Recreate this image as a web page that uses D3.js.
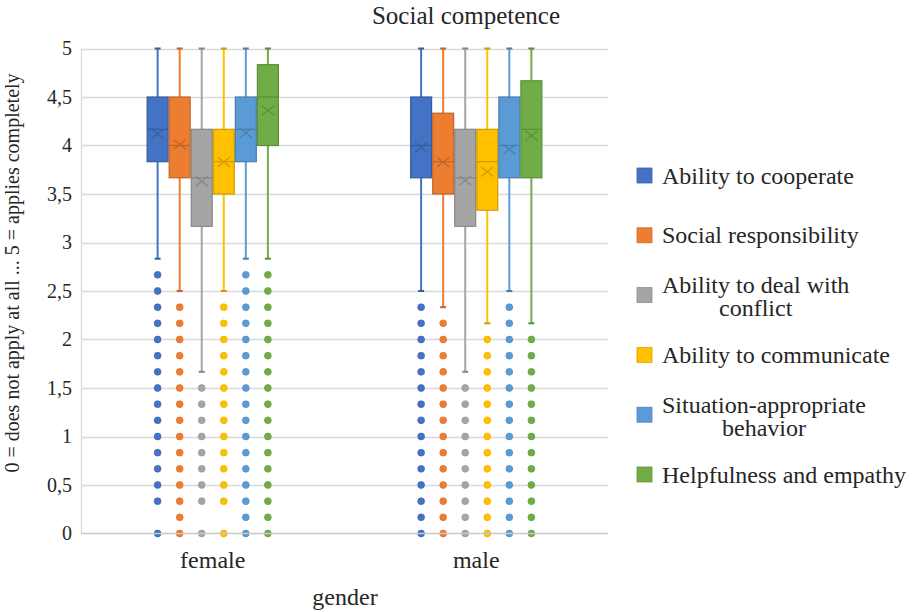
<!DOCTYPE html>
<html>
<head>
<meta charset="utf-8">
<script src="https://cdn.jsdelivr.net/npm/d3@7"></script>
</head>
<body style="margin:0">
<svg id="chart" width="916" height="612"></svg>
<script>
// ---------- data ----------
const title = "Social competence";
const yTitle = "0 = does not apply at all ... 5 = applies completely";
const xTitle = "gender";
const categories = ["female", "male"];
const seriesNames = [
  "Ability to cooperate",
  "Social responsibility",
  "Ability to deal with conflict",
  "Ability to communicate",
  "Situation-appropriate behavior",
  "Helpfulness and empathy"
];
const legendLines = [
  ["Ability to cooperate"],
  ["Social responsibility"],
  ["Ability to deal with", "conflict"],
  ["Ability to communicate"],
  ["Situation-appropriate", "behavior"],
  ["Helpfulness and empathy"]
];
const seriesColors = ["#4472C4", "#ED7D31", "#A5A5A5", "#FFC000", "#5B9BD5", "#70AD47"];
const yTickValues = [0, 0.5, 1, 1.5, 2, 2.5, 3, 3.5, 4, 4.5, 5];
const yTickLabels = ["0", "0,5", "1", "1,5", "2", "2,5", "3", "3,5", "4", "4,5", "5"];

// per series: [female, male]
const q1 = [[3.833, 3.667], [3.667, 3.5], [3.167, 3.167], [3.5, 3.333], [3.833, 3.667], [4.0, 3.667]];
const median = [[4.167, 4.0], [4.0, 3.833], [3.667, 3.667], [3.833, 3.833], [4.167, 4.0], [4.5, 4.167]];
const q3 = [[4.5, 4.5], [4.5, 4.333], [4.167, 4.167], [4.167, 4.167], [4.5, 4.5], [4.833, 4.667]];
const mean = [[4.12, 3.98], [4.01, 3.83], [3.63, 3.64], [3.83, 3.73], [4.13, 3.96], [4.36, 4.1]];
const whiskerLow = [[2.833, 2.5], [2.5, 2.333], [1.667, 1.667], [2.5, 2.167], [2.833, 2.5], [2.833, 2.167]];
const whiskerHigh = [[5, 5], [5, 5], [5, 5], [5, 5], [5, 5], [5, 5]];

const outliersFemale = [
  [2.667, 2.5, 2.333, 2.167, 2, 1.833, 1.667, 1.5, 1.333, 1.167, 1, 0.833, 0.667, 0.5, 0.333, 0],
  [2.333, 2.167, 2, 1.833, 1.667, 1.5, 1.333, 1.167, 1, 0.833, 0.667, 0.5, 0.333, 0.167, 0],
  [1.5, 1.333, 1.167, 1, 0.833, 0.667, 0.5, 0.333, 0],
  [2.333, 2.167, 2, 1.833, 1.667, 1.5, 1.333, 1.167, 1, 0.833, 0.667, 0.5, 0.333, 0],
  [2.667, 2.5, 2.333, 2.167, 2, 1.833, 1.667, 1.5, 1.333, 1.167, 1, 0.833, 0.667, 0.5, 0.333, 0.167, 0],
  [2.667, 2.5, 2.333, 2.167, 2, 1.833, 1.667, 1.5, 1.333, 1.167, 1, 0.833, 0.667, 0.5, 0.333, 0.167, 0]
];
const outliersMale = [
  [2.333, 2.167, 2, 1.833, 1.667, 1.5, 1.333, 1.167, 1, 0.833, 0.667, 0.5, 0.333, 0.167, 0],
  [2.167, 2, 1.833, 1.667, 1.5, 1.333, 1.167, 1, 0.833, 0.667, 0.5, 0.333, 0.167, 0],
  [1.5, 1.333, 1.167, 1, 0.833, 0.667, 0.5, 0.333, 0.167, 0],
  [2, 1.833, 1.667, 1.5, 1.333, 1.167, 1, 0.833, 0.667, 0.5, 0.333, 0.167, 0],
  [2.333, 2.167, 2, 1.833, 1.667, 1.5, 1.333, 1.167, 1, 0.833, 0.667, 0.5, 0.333, 0.167, 0],
  [2, 1.833, 1.667, 1.5, 1.333, 1.167, 1, 0.833, 0.667, 0.5, 0.333, 0.167, 0]
];
const outliers = [outliersFemale, outliersMale];

// ---------- layout ----------
const FONT = "'Tinos'";
const TEXT = "#262626";
const svg = d3.select("#chart");
const plot = { left: 81, right: 608, top: 48.5, bottom: 533.5 };

function styleText(sel, size) {
  return sel.style("font-family", FONT).attr("font-size", size).attr("fill", TEXT);
}

const x = d3.scaleBand().domain(categories).range([plot.left, plot.right]);
const xs = d3.scaleBand().domain(d3.range(seriesNames.length))
  .range([0, x.bandwidth()]).paddingInner(0.05).paddingOuter(3);
const y = d3.scaleLinear().domain([0, 5]).range([plot.bottom, plot.top]);

// gridlines
svg.append("g")
  .selectAll("line").data(yTickValues.filter(v => v > 0)).join("line")
  .attr("x1", plot.left).attr("x2", plot.right)
  .attr("y1", d => Math.round(y(d)) + 0.5).attr("y2", d => Math.round(y(d)) + 0.5)
  .attr("stroke", "#d9d9d9").attr("stroke-width", 1.3);

// left axis line (light)
svg.append("line")
  .attr("x1", plot.left + 0.5).attr("x2", plot.left + 0.5)
  .attr("y1", plot.top).attr("y2", plot.bottom)
  .attr("stroke", "#d9d9d9").attr("stroke-width", 1.3);

// y tick labels
svg.append("g").selectAll("text").data(yTickValues).join("text")
  .attr("x", plot.left - 9).attr("y", d => y(d)).attr("dy", "0.34em")
  .attr("text-anchor", "end")
  .call(styleText, 20)
  .text((d, i) => yTickLabels[i]);

// boxes
const boxW = xs.bandwidth();
const capW = 6;
seriesNames.forEach((name, si) => {
  const col = seriesColors[si];
  const dark = d3.color(col).darker(0.6).formatHex();
  categories.forEach((cat, ci) => {
    const cx = x(cat) + xs(si) + boxW / 2;
    const g = svg.append("g");
    g.append("line").attr("x1", cx).attr("x2", cx)
      .attr("y1", y(whiskerHigh[si][ci])).attr("y2", y(q3[si][ci]))
      .attr("stroke", col).attr("stroke-width", 2);
    g.append("line").attr("x1", cx).attr("x2", cx)
      .attr("y1", y(q1[si][ci])).attr("y2", y(whiskerLow[si][ci]))
      .attr("stroke", col).attr("stroke-width", 2);
    [whiskerHigh[si][ci], whiskerLow[si][ci]].forEach(v => {
      g.append("line").attr("x1", cx - capW / 2).attr("x2", cx + capW / 2)
        .attr("y1", y(v)).attr("y2", y(v))
        .attr("stroke", dark).attr("stroke-width", 2);
    });
    g.append("rect")
      .attr("x", x(cat) + xs(si)).attr("width", boxW)
      .attr("y", y(q3[si][ci])).attr("height", y(q1[si][ci]) - y(q3[si][ci]))
      .attr("fill", col).attr("stroke", dark).attr("stroke-width", 1.2);
    g.append("line").attr("x1", x(cat) + xs(si)).attr("x2", x(cat) + xs(si) + boxW)
      .attr("y1", y(median[si][ci])).attr("y2", y(median[si][ci]))
      .attr("stroke", dark).attr("stroke-width", 1.2);
    const my = y(mean[si][ci]), s = 6;
    g.append("path")
      .attr("d", `M${cx - s},${my - s * 0.8}L${cx + s},${my + s * 0.8}M${cx - s},${my + s * 0.8}L${cx + s},${my - s * 0.8}`)
      .attr("stroke", dark).attr("stroke-width", 1.2).attr("fill", "none");
    g.selectAll("circle.o").data(outliers[ci][si]).join("circle")
      .attr("class", "o")
      .attr("cx", cx).attr("cy", d => y(d)).attr("r", 3.4)
      .attr("fill", col).attr("stroke", d3.color(col).darker(0.2).formatHex()).attr("stroke-width", 0.8);
  });
});

// bottom axis line
svg.append("line")
  .attr("x1", plot.left).attr("x2", plot.right)
  .attr("y1", plot.bottom).attr("y2", plot.bottom)
  .attr("stroke", "#c8c8c8").attr("stroke-width", 1.5);

// x labels
svg.append("g").selectAll("text").data(categories).join("text")
  .attr("x", d => x(d) + x.bandwidth() / 2).attr("y", plot.bottom + 34)
  .attr("text-anchor", "middle")
  .call(styleText, 24)
  .text(d => d);

// titles
svg.append("text").attr("x", 466).attr("y", 24).attr("text-anchor", "middle")
  .call(styleText, 25).text(title);
svg.append("text").attr("x", 345).attr("y", 605).attr("text-anchor", "middle")
  .call(styleText, 24).text(xTitle);
svg.append("text")
  .attr("transform", `translate(19,273) rotate(-90)`)
  .attr("text-anchor", "middle")
  .call(styleText, 20).text(yTitle);

// legend
const legend = svg.append("g").attr("transform", "translate(637,0)");
legendLines.forEach((lines, i) => {
  const cy = 175.5 + i * 59.8;
  legend.append("rect").attr("x", 0).attr("y", cy - 7.5).attr("width", 15).attr("height", 15)
    .attr("fill", seriesColors[i]).attr("stroke", d3.color(seriesColors[i]).darker(0.4).formatHex()).attr("stroke-width", 0.8);
  if (lines.length === 1) {
    legend.append("text").attr("x", 25).attr("y", cy + 8).call(styleText, 24).text(lines[0]);
  } else {
    const t1 = legend.append("text").attr("x", 25).attr("y", cy - 2).call(styleText, 24).text(lines[0]);
    const w1 = t1.node().getComputedTextLength();
    legend.append("text").attr("x", 25 + w1 / 2).attr("y", cy + 21.3).attr("text-anchor", "middle")
      .call(styleText, 24).text(lines[1]);
  }
});
</script>
</body>
</html>
